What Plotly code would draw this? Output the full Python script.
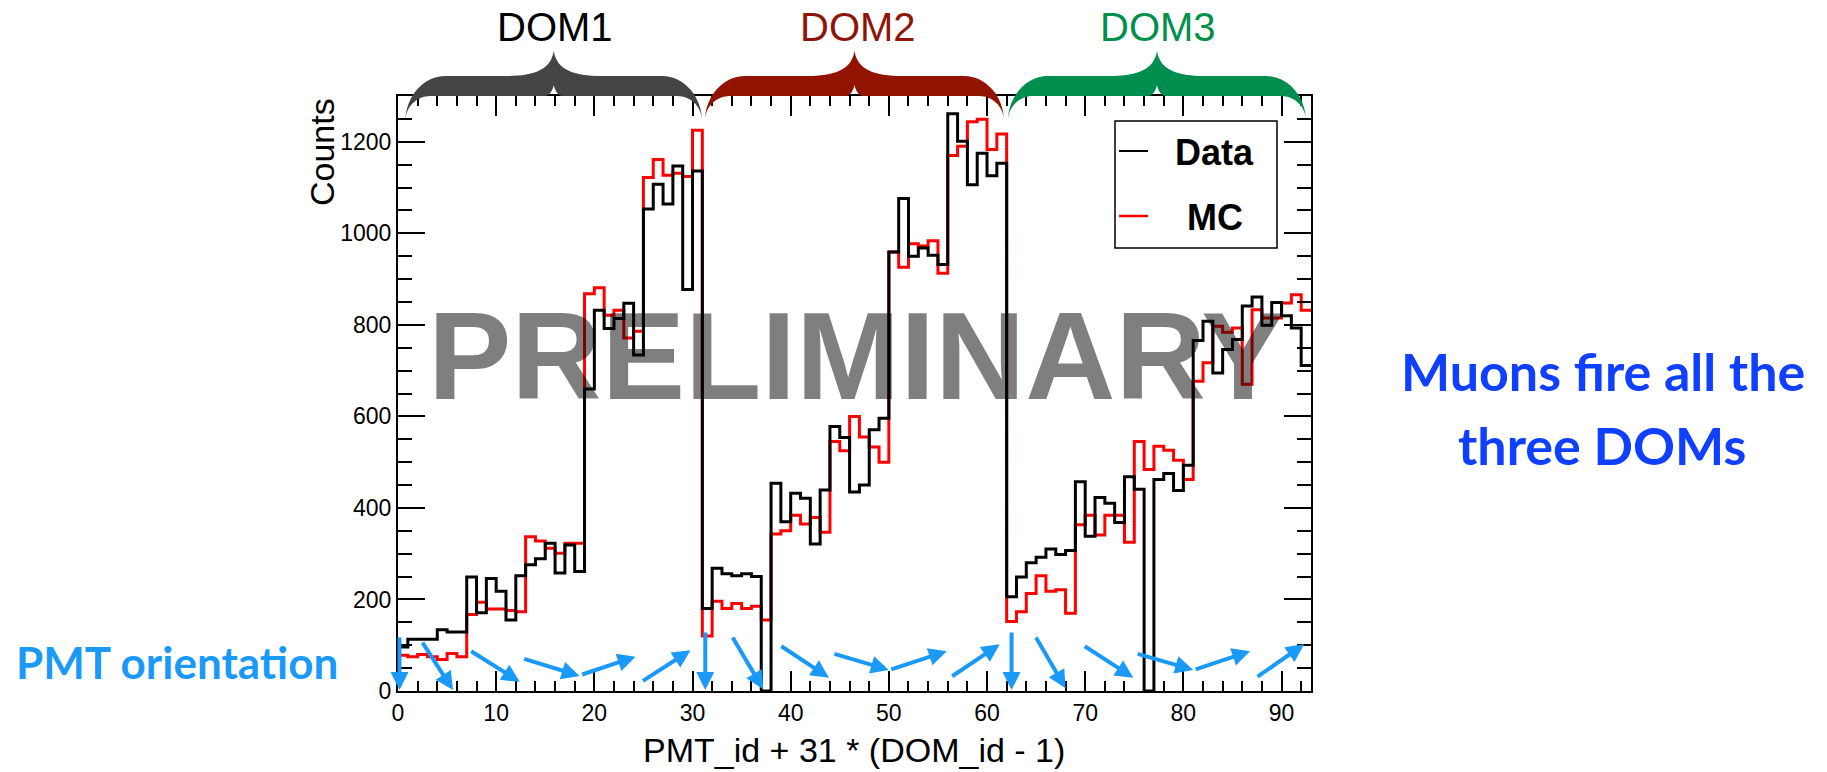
import plotly.graph_objects as go

# ---------------- data ----------------
BIN_EDGES = list(range(0, 94))          # 93 bins: PMT_id + 31*(DOM_id-1)

DATA_COUNTS = [
    96, 113, 113, 113, 134, 129, 129, 249, 171, 246,
    218, 155, 252, 276, 289, 323, 258, 319, 261, 660,
    832, 792, 814, 847, 734, 1053, 1107, 1064, 1147, 877,
    1136, 180, 268, 256, 252, 256, 250, 0, 454, 370,
    432, 421, 321, 439, 578, 554, 435, 450, 571, 596,
    959, 1076, 950, 968, 952, 932, 1261, 1201, 1106, 1175,
    1126, 1153, 206, 249, 280, 292, 310, 298, 307, 457,
    338, 423, 410, 368, 468, 441, 0, 462, 475, 438,
    493, 766, 808, 695, 746, 768, 841, 861, 799, 849,
    820, 793, 711,
]

MC_COUNTS = [
    78, 75, 80, 75, 69, 82, 75, 167, 194, 179,
    179, 176, 173, 337, 328, 312, 301, 323, 323, 868,
    881, 821, 832, 771, 786, 1122, 1161, 1127, 1131, 1124,
    1225, 120, 196, 180, 191, 180, 185, 155, 343, 350,
    384, 365, 379, 347, 545, 525, 600, 555, 533, 500,
    959, 926, 977, 972, 984, 913, 1170, 1190, 1244, 1249,
    1183, 1217, 152, 173, 213, 252, 218, 221, 170, 363,
    384, 341, 384, 384, 325, 545, 484, 535, 526, 504,
    462, 677, 717, 797, 784, 793, 670, 833, 815, 815,
    848, 866, 832,
]

X_TICKS = [0, 10, 20, 30, 40, 50, 60, 70, 80, 90]
Y_TICKS = [0, 200, 400, 600, 800, 1000, 1200]

DOM_LABELS = ["DOM1", "DOM2", "DOM3"]
DOM_TEXT_COLORS = ["#000000", "#8e1508", "#00904c"]
DOM_BRACE_COLORS = ["#444444", "#921300", "#008e4e"]

# PMT orientation arrows (tail -> head) in data units
ARROW_TAIL_X = [0.15, 2.4, 7.3, 12.7, 18.6, 24.8,
                31.3, 34.0, 38.9, 44.3, 50.1, 56.3,
                62.5, 64.9, 69.8, 75.2, 81.1, 87.4]
ARROW_TAIL_Y = [120, 109, 89, 71, 35, 20,
                131, 120, 100, 82, 46, 30,
                131, 120, 100, 82, 46, 29]
ARROW_HEAD_X = [0.15, 5.6, 12.4, 18.5, 24.2, 29.8,
                31.3, 37.2, 43.9, 50.0, 55.9, 61.3,
                62.5, 68.0, 74.9, 81.0, 86.8, 92.3]
ARROW_HEAD_Y = [2, 2, 20, 33, 75, 89,
                2, 4, 29, 46, 87, 102,
                2, 6, 29, 46, 87, 102]

# ---------------- geometry helpers ----------------
W, H = 1827, 772
L_PX, R_PX, T_PX, B_PX = 398, 1311, 96, 691


def px(x):
    return (x - L_PX) / (R_PX - L_PX)


def py(y):
    return (B_PX - y) / (B_PX - T_PX)


def brace_path(Lp, Rp):
    C = (Lp + Rp) / 2.0
    T, B, TIP, END = 76, 96, 51, 121
    pts = [
        ("M", [(Lp, END)]),
        ("C", [(Lp, 96.5), (Lp + 18, T), (Lp + 40, T)]),
        ("L", [(C - 48, T)]),
        ("C", [(C - 20, T), (C - 3, 70), (C, TIP)]),
        ("C", [(C + 3, 70), (C + 20, T), (C + 48, T)]),
        ("L", [(Rp - 40, T)]),
        ("C", [(Rp - 18, T), (Rp, 96.5), (Rp, END)]),
        ("C", [(Rp, 107), (Rp - 11, B), (Rp - 25, B)]),
        ("L", [(C + 9, B)]),
        ("C", [(C + 4, B), (C + 1, 90), (C, 85)]),
        ("C", [(C - 1, 90), (C - 4, B), (C - 9, B)]),
        ("L", [(Lp + 25, B)]),
        ("C", [(Lp + 11, B), (Lp, 107), (Lp, END)]),
    ]
    s = ""
    for cmd, plist in pts:
        s += cmd + " " + " ".join("%.5f,%.5f" % (px(a), py(b)) for a, b in plist) + " "
    return s + "Z"


# ---------------- figure ----------------
fig = go.Figure()

fig.add_trace(go.Scatter(
    x=BIN_EDGES, y=MC_COUNTS + [MC_COUNTS[-1]],
    mode="lines", line=dict(color="#ff0000", width=3, shape="hv"),
    name="MC", showlegend=False, hoverinfo="skip"))
fig.add_trace(go.Scatter(
    x=BIN_EDGES, y=DATA_COUNTS + [DATA_COUNTS[-1]],
    mode="lines", line=dict(color="#000000", width=3, shape="hv"),
    name="Data", showlegend=False, hoverinfo="skip"))

AXFONT = "Liberation Sans, Arial, Helvetica, sans-serif"
GILL = "Lato, 'Open Sans', sans-serif"

fig.update_xaxes(
    range=[0, 93], showgrid=False, zeroline=False,
    showline=True, linecolor="black", linewidth=2, mirror="ticks",
    ticks="inside", ticklen=20, tickwidth=1.5, tickcolor="black",
    tickvals=X_TICKS, tickfont=dict(family=AXFONT, size=23, color="black"),
    minor=dict(dtick=2, tick0=0, ticks="inside", ticklen=10, tickwidth=1.5,
               tickcolor="black", showgrid=False),
)
fig.update_yaxes(
    range=[0, 1300], showgrid=False, zeroline=False,
    showline=True, linecolor="black", linewidth=2, mirror="ticks",
    ticks="inside", ticklen=27, tickwidth=1.5, tickcolor="black",
    tickvals=Y_TICKS, tickfont=dict(family=AXFONT, size=23, color="black"),
    minor=dict(dtick=50, tick0=0, ticks="inside", ticklen=14, tickwidth=1.5,
               tickcolor="black", showgrid=False),
)

shapes = []
annotations = []

# braces + DOM labels
BRACE_SPANS = [(405.5, 702), (705, 1004), (1008, 1306)]
DOM_LABEL_X = [555, 858, 1158]
for i, (a, b) in enumerate(BRACE_SPANS):
    shapes.append(dict(type="path", xref="paper", yref="paper",
                       path=brace_path(a, b), fillcolor=DOM_BRACE_COLORS[i],
                       line=dict(width=0), layer="above"))
    annotations.append(dict(
        text=DOM_LABELS[i], xref="paper", yref="paper",
        x=px(DOM_LABEL_X[i]), y=py(27.5), xanchor="center", yanchor="middle",
        showarrow=False, font=dict(family=AXFONT, size=40, color=DOM_TEXT_COLORS[i])))

# legend (drawn manually, ROOT style)
shapes.append(dict(type="rect", xref="paper", yref="paper",
                   x0=px(1115), x1=px(1277), y0=py(248), y1=py(121),
                   line=dict(color="black", width=1.5), fillcolor="white", layer="above"))
shapes.append(dict(type="line", xref="paper", yref="paper",
                   x0=px(1119), x1=px(1148), y0=py(151), y1=py(151),
                   line=dict(color="black", width=2), layer="above"))
shapes.append(dict(type="line", xref="paper", yref="paper",
                   x0=px(1119), x1=px(1148), y0=py(216), y1=py(216),
                   line=dict(color="#ff0000", width=2.5), layer="above"))
annotations.append(dict(text="Data", xref="paper", yref="paper",
                        x=px(1214.5), y=py(152), xanchor="center", yanchor="middle",
                        showarrow=False,
                        font=dict(family=AXFONT, size=36, color="black", weight="bold")))
annotations.append(dict(text="MC", xref="paper", yref="paper",
                        x=px(1214.5), y=py(217), xanchor="center", yanchor="middle",
                        showarrow=False,
                        font=dict(family=AXFONT, size=36, color="black", weight="bold")))

# axis titles
annotations.append(dict(text="PMT_id + 31 * (DOM_id - 1)", xref="paper", yref="paper",
                        x=px(854), y=py(750), xanchor="center", yanchor="middle",
                        showarrow=False, font=dict(family=AXFONT, size=34, color="black")))
annotations.append(dict(text="Counts", xref="paper", yref="paper", textangle=-90,
                        x=px(322), y=py(152), xanchor="center", yanchor="middle",
                        showarrow=False, font=dict(family=AXFONT, size=34, color="black")))

# PMT orientation arrows
ARROW_COLOR = "#1a9af6"
for tx, ty, hx, hy in zip(ARROW_TAIL_X, ARROW_TAIL_Y, ARROW_HEAD_X, ARROW_HEAD_Y):
    annotations.append(dict(x=hx, y=hy, ax=tx, ay=ty, xref="x", yref="y",
                            axref="x", ayref="y", text="", showarrow=True,
                            arrowhead=2, arrowsize=0.9, arrowwidth=4,
                            arrowcolor=ARROW_COLOR, standoff=0))

# side texts
annotations.append(dict(text="PMT orientation", xref="paper", yref="paper",
                        x=px(176.5), y=py(662), xanchor="center", yanchor="middle",
                        showarrow=False,
                        font=dict(family=GILL, size=44, color=ARROW_COLOR, weight="bold")))
annotations.append(dict(text="Muons fire all the", xref="paper", yref="paper",
                        x=px(1603), y=py(370.5), xanchor="center", yanchor="middle",
                        showarrow=False,
                        font=dict(family=GILL, size=52, color="#1040ff", weight="bold")))
annotations.append(dict(text="three DOMs", xref="paper", yref="paper",
                        x=px(1602), y=py(444.7), xanchor="center", yanchor="middle",
                        showarrow=False,
                        font=dict(family=GILL, size=52, color="#1040ff", weight="bold")))

# PRELIMINARY watermark
annotations.append(dict(text="PRELIMINARY", xref="paper", yref="paper",
                        x=px(856.5), y=py(355), xanchor="center", yanchor="middle",
                        showarrow=False,
                        font=dict(family=AXFONT, size=125, color="rgba(0,0,0,0.5)",
                                  weight="bold")))

fig.update_layout(
    width=W, height=H,
    margin=dict(l=L_PX, r=W - R_PX, t=T_PX, b=H - B_PX, pad=0),
    paper_bgcolor="white", plot_bgcolor="white",
    showlegend=False,
    shapes=shapes, annotations=annotations,
)

fig.write_html("out.html")
